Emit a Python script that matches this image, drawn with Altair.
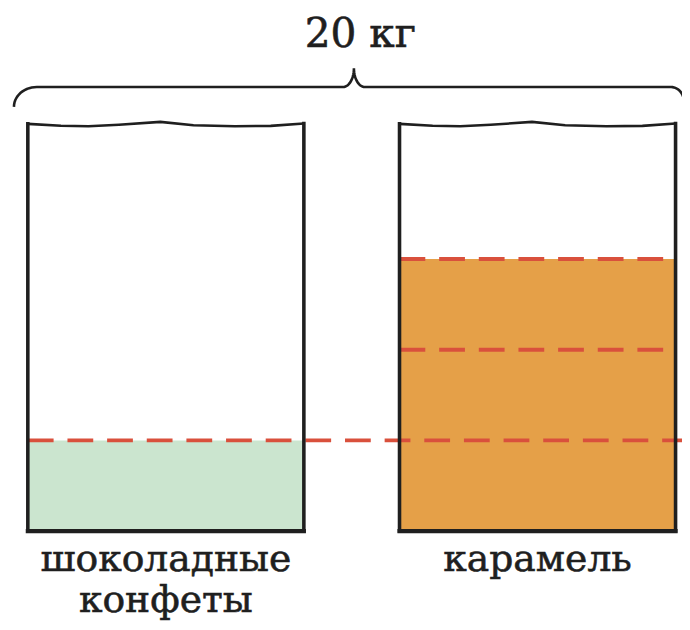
import math
import altair as alt
import pandas as pd

# ---------------- data ----------------
containers = ["шоколадные конфеты", "карамель"]
label_lines = [["шоколадные", "конфеты"], ["карамель"]]
parts = [1, 3]                      # filled equal parts in each container
fill_colors = ["#CBE5CF", "#E5A048"]
total_label = "20 кг"
capacity = 4.49                     # container height, in parts
# wavy top edge of a container (fraction of width, offset in parts)
top_wave_x = [0.0, 0.12, 0.22, 0.33, 0.48, 0.60, 0.75, 0.88, 1.0]
top_wave_dy = [0.0, -0.02, -0.027, -0.01, 0.022, -0.015, -0.027, -0.022, 0.005]

# ---------------- layout ----------------
W, H = 680, 616
XU, X0 = 278.5, 20.0     # px per container width, plot px of x=0
YU, Y0 = 91.5, 525.0     # px per part, plot px of y=0
x_start = [0.0, 1.3465]  # container left edges (container-width units)

def ux(px):  # plot px -> x units
    return (px - X0) / XU

def uy(py):  # plot px -> y units
    return (Y0 - py) / YU

x_right_end = ux(W)

xs = alt.Scale(domain=[ux(0), ux(W)], range=[0, W], nice=False, zero=False)
ys = alt.Scale(domain=[uy(H), uy(0)], range=[H, 0], nice=False, zero=False)

def X(f="x"):
    return alt.X(f"{f}:Q", scale=xs, axis=None)

def Y(f="y"):
    return alt.Y(f"{f}:Q", scale=ys, axis=None)

ink = "#1f1f1f"

# fills
fill_df = pd.DataFrame({
    "x": x_start, "x2": [s + 1 for s in x_start], "y": [0, 0], "y2": parts,
    "c": fill_colors, "name": containers,
})
fills = alt.Chart(fill_df).mark_rect().encode(
    x=X(), x2="x2:Q", y=Y(), y2="y2:Q", color=alt.Color("c:N", scale=None))

# top wavy edges
top_rows = []
for ci, s in enumerate(x_start):
    for i, (fx, dy) in enumerate(zip(top_wave_x, top_wave_dy)):
        top_rows.append({"x": s + fx, "y": capacity + dy, "k": ci, "o": i})
top_df = pd.DataFrame(top_rows)
tops = alt.Chart(top_df).mark_line(color=ink, strokeWidth=2.6).encode(
    x=X(), y=Y(), detail="k:N", order="o:Q")

# sides
side_rows = []
for s in x_start:
    side_rows.append({"x": s, "y": 0, "y2": capacity + top_wave_dy[0]})
    side_rows.append({"x": s + 1, "y": 0, "y2": capacity + top_wave_dy[-1]})
sides = alt.Chart(pd.DataFrame(side_rows)).mark_rule(
    color=ink, strokeWidth=3.6, strokeCap="square").encode(x=X(), y=Y(), y2="y2:Q")

bottom_df = pd.DataFrame({"x": x_start, "x2": [s + 1 for s in x_start], "y": [0, 0]})
bottoms = alt.Chart(bottom_df).mark_rule(
    color=ink, strokeWidth=4.2, strokeCap="square").encode(x=X(), x2="x2:Q", y=Y())

# dashed part lines
dash_rows = []
big = parts.index(max(parts))
small = parts.index(min(parts))
for lvl in range(1, max(parts) + 1):
    if lvl == min(parts):
        dash_rows.append({"x": x_start[small], "x2": x_right_end, "y": lvl})
    else:
        dash_rows.append({"x": x_start[big], "x2": x_start[big] + 1, "y": lvl})
dashes = alt.Chart(pd.DataFrame(dash_rows)).mark_rule(
    color="#D9503C", strokeWidth=4, strokeDash=[26, 14]).encode(x=X(), x2="x2:Q", y=Y())

# brace (plot px geometry, converted to units)
def arc(cx, cy, ax, ay, a0, a1, n=14):
    out = []
    for i in range(n + 1):
        a = math.radians(a0 + (a1 - a0) * i / n)
        out.append((cx + ax * math.cos(a), cy + ay * math.sin(a)))
    return out

yline, tipx, tipy = 77, 349, 58
bp = []
bp += arc(6 + 23, 97, 23, 97 - yline, 180, 270)
bp += arc(tipx - 11, tipy, 11, yline - tipy, 90, 0)
bp += arc(tipx + 11, tipy, 11, yline - tipy, 180, 90)
bp += arc(669, 92, 13, 92 - yline, 270, 360)
brace_df = pd.DataFrame({"x": [ux(p[0]) for p in bp], "y": [uy(p[1]) for p in bp],
                         "o": list(range(len(bp)))})
brace = alt.Chart(brace_df).mark_line(color=ink, strokeWidth=2.6).encode(
    x=X(), y=Y(), order="o:Q")

# texts
txt_rows = [{"x": ux(355.5), "y": uy(37), "t": total_label, "s": 41}]
for ci, lines in enumerate(label_lines):
    for li, line in enumerate(lines):
        txt_rows.append({"x": x_start[ci] + 0.5, "y": uy(565 + 42 * li), "t": line, "s": 38})
texts = alt.Chart(pd.DataFrame(txt_rows)).mark_text(
    font="DejaVu Serif", color=ink, stroke=ink, strokeWidth=0.6,
    baseline="alphabetic", align="center").encode(
    x=X(), y=Y(), text="t:N", size=alt.Size("s:Q", scale=None))

chart = alt.layer(fills, dashes, tops, sides, bottoms, brace, texts).properties(
    width=W, height=H, padding=0, autosize=alt.AutoSizeParams(type="none")
).configure_view(strokeWidth=0)

chart.save("out.html", embed_options={"renderer": "svg", "actions": False})
